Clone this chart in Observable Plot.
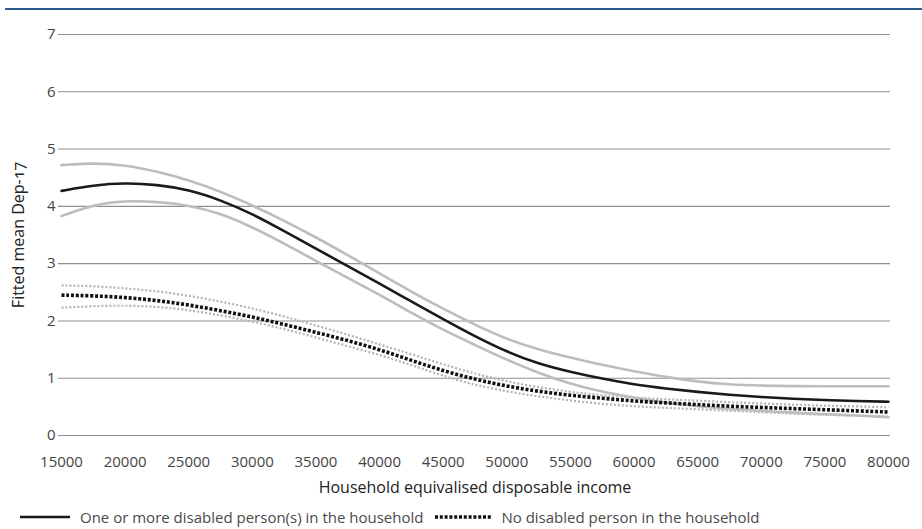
<!DOCTYPE html>
<html>
<head>
<meta charset="utf-8">
<script src="https://cdn.jsdelivr.net/npm/d3@7"></script>
<script src="https://cdn.jsdelivr.net/npm/@observablehq/plot@0.6"></script>
<style>
  html, body { margin: 0; padding: 0; background: #fff; }
  #wrap { position: relative; width: 922px; height: 529px; overflow: hidden; font-family: "Open Sans", "Noto Sans", sans-serif; color: #333; }
  #rule { position: absolute; left: 5px; right: 0; top: 8px; height: 0; border-top: 2px solid #2b5a8c; }
  #chart { position: absolute; left: 0; top: 0; }
  #chart svg { font-variant-numeric: oldstyle-nums; }
  #legend { position: absolute; left: 20px; top: 507px; display: flex; align-items: center; font-size: 15px; color: #4a4a4a; white-space: nowrap; }
  #legend .item { display: flex; align-items: center; margin-right: 12px; }
  #legend svg { margin-right: 10px; }
</style>
</head>
<body>
<div id="wrap">
  <div id="rule"></div>
  <div id="chart"></div>
  <div id="legend"></div>
</div>
<script>
// Household equivalised disposable income (x positions of the fitted curves)
const incomes = [15000, 17500, 20000, 22500, 25000, 27500, 30000, 32500, 35000, 37500,
  40000, 42500, 45000, 47500, 50000, 52500, 55000, 57500, 60000, 62500,
  65000, 67500, 70000, 72500, 75000, 77500, 80000];

// One or more disabled person(s) in the household: fitted mean and 95% bounds
const disabledMean = [4.27, 4.37, 4.41, 4.38, 4.29, 4.11, 3.87, 3.57, 3.26, 2.96,
  2.65, 2.34, 2.03, 1.73, 1.46, 1.25, 1.11, 0.99, 0.89, 0.82,
  0.76, 0.71, 0.67, 0.64, 0.62, 0.60, 0.59];
const disabledUpper = [4.72, 4.76, 4.72, 4.61, 4.46, 4.26, 4.02, 3.75, 3.46, 3.15,
  2.83, 2.51, 2.21, 1.93, 1.68, 1.50, 1.36, 1.23, 1.12, 1.02,
  0.94, 0.89, 0.87, 0.86, 0.86, 0.86, 0.86];
const disabledLower = [3.83, 4.03, 4.10, 4.08, 4.02, 3.88, 3.64, 3.35, 3.05, 2.75,
  2.46, 2.14, 1.84, 1.58, 1.32, 1.09, 0.90, 0.76, 0.66, 0.57,
  0.51, 0.46, 0.43, 0.40, 0.37, 0.35, 0.32];

// No disabled person in the household: fitted mean and 95% bounds
const nonDisabledMean = [2.45, 2.44, 2.41, 2.36, 2.28, 2.18, 2.07, 1.94, 1.80, 1.66,
  1.50, 1.31, 1.13, 0.98, 0.86, 0.77, 0.70, 0.65, 0.60, 0.57,
  0.54, 0.51, 0.49, 0.47, 0.45, 0.43, 0.41];
const nonDisabledUpper = [2.62, 2.61, 2.57, 2.52, 2.44, 2.34, 2.22, 2.08, 1.92, 1.76,
  1.59, 1.42, 1.24, 1.08, 0.94, 0.84, 0.76, 0.70, 0.66, 0.63,
  0.61, 0.58, 0.56, 0.54, 0.52, 0.51, 0.49];
const nonDisabledLower = [2.23, 2.26, 2.27, 2.25, 2.19, 2.10, 1.99, 1.86, 1.71, 1.56,
  1.41, 1.23, 1.04, 0.88, 0.77, 0.68, 0.61, 0.55, 0.51, 0.48,
  0.46, 0.43, 0.41, 0.38, 0.36, 0.35, 0.33];

const xTicks = [15000, 20000, 25000, 30000, 35000, 40000, 45000, 50000, 55000, 60000, 65000, 70000, 75000, 80000];
const yTicks = [0, 1, 2, 3, 4, 5, 6, 7];

const xLabel = "Household equivalised disposable income";
const yLabel = "Fitted mean Dep-17";
const seriesNames = ["One or more disabled person(s) in the household", "No disabled person in the household"];

// Long-format rows for each curve
const toRows = (vals) => incomes.map((x, i) => ({x, y: vals[i]}));

const solidStyle = {stroke: "#1a1a1a", strokeWidth: 2.6};
const solidBand = {stroke: "#bdbdbd", strokeWidth: 2.6};
const dotStyle = {stroke: "#111", strokeWidth: 3.6, strokeDasharray: "3 1.8", strokeLinecap: "butt"};
const dotBand = {stroke: "#b3b3b3", strokeWidth: 2.2, strokeDasharray: "2 2", strokeLinecap: "butt"};
const curve = "basis";

const chart = Plot.plot({
  width: 922,
  height: 500,
  marginLeft: 61,
  marginRight: 34,
  marginTop: 34,
  marginBottom: 65,
  style: {fontFamily: "'Open Sans', 'Noto Sans', sans-serif", fontSize: "15px", color: "#444", background: "transparent"},
  x: {domain: [15000, 80000]},
  y: {domain: [0, 7]},
  marks: [
    Plot.ruleY(yTicks, {stroke: "#8f8f8f", strokeWidth: 1.1, insetLeft: -3, insetRight: -2}),
    Plot.axisY(yTicks, {tickSize: 0, tickPadding: 6, label: null, tickFormat: d3.format("d"), fontSize: 15}),
    Plot.axisX(xTicks, {tickSize: 0, tickPadding: 21, label: null, tickFormat: d3.format("d"), fontSize: 15}),
    Plot.text([xLabel], {frameAnchor: "bottom", dy: 57, fill: "#222", fontSize: 16}),
    Plot.text([yLabel], {frameAnchor: "left", textAnchor: "middle", rotate: -90, dx: -43, fill: "#222", fontSize: 16}),
    Plot.line(toRows(nonDisabledUpper), {x: "x", y: "y", curve, ...dotBand}),
    Plot.line(toRows(nonDisabledLower), {x: "x", y: "y", curve, ...dotBand}),
    Plot.line(toRows(disabledUpper), {x: "x", y: "y", curve, ...solidBand}),
    Plot.line(toRows(disabledLower), {x: "x", y: "y", curve, ...solidBand}),
    Plot.line(toRows(nonDisabledMean), {x: "x", y: "y", curve, ...dotStyle}),
    Plot.line(toRows(disabledMean), {x: "x", y: "y", curve, ...solidStyle})
  ]
});
document.getElementById("chart").appendChild(chart);

// Legend below the chart
const legend = d3.select("#legend");
const styles = [solidStyle, dotStyle];
seriesNames.forEach((name, i) => {
  const w = i === 0 ? 50 : 56;
  const item = legend.append("div").attr("class", "item");
  const s = item.append("svg").attr("width", w).attr("height", 8);
  const st = styles[i];
  s.append("line")
    .attr("x1", 0).attr("x2", w).attr("y1", 4).attr("y2", 4)
    .attr("stroke", st.stroke).attr("stroke-width", st.strokeWidth)
    .attr("stroke-dasharray", st.strokeDasharray || null);
  item.append("span").text(name);
});
</script>
</body>
</html>
